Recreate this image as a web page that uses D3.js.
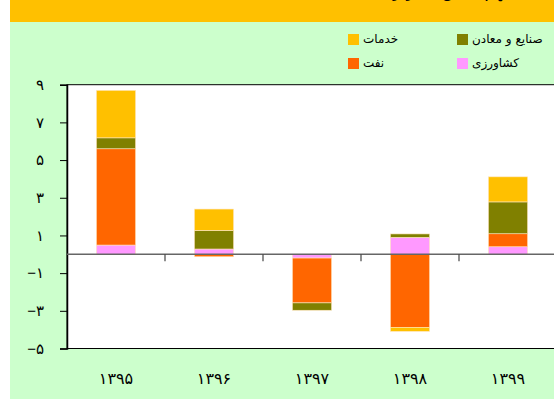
<!DOCTYPE html>
<html>
<head>
<meta charset="utf-8">
<script src="https://cdn.jsdelivr.net/npm/d3@7"></script>
<style>
body { margin: 0; background: #fff; }
svg { display: block; font-family: "DejaVu Sans", sans-serif; }
</style>
</head>
<body>
<svg id="chart"></svg>
<script>
// data
var years = ["۱۳۹۵", "۱۳۹۶", "۱۳۹۷", "۱۳۹۸", "۱۳۹۹"]
var keshavarzi = [0.49, 0.28, -0.2, 0.9, 0.4]
var naft = [5.11, -0.13, -2.38, -3.88, 0.69]
var sanaye = [0.58, 0.99, -0.39, 0.18, 1.69]
var khadamat = [2.52, 1.13, 0, -0.21, 1.33]
var yTicks = [-5, -3, -1, 1, 3, 5, 7, 9]

var series = [
	{ key: "keshavarzi", name: "کشاورزی", color: "#ff99ff", values: keshavarzi },
	{ key: "naft", name: "نفت", color: "#ff6600", values: naft },
	{ key: "sanaye", name: "صنایع و معادن", color: "#808000", values: sanaye },
	{ key: "khadamat", name: "خدمات", color: "#ffc000", values: khadamat }
]

var width = 554
var height = 401
var svg = d3.select("#chart").attr("width", width).attr("height", height)

// backgrounds
svg.append("rect").attr("x", 10).attr("y", 0).attr("width", width - 10).attr("height", 22).attr("fill", "#ffc000")
svg.append("rect").attr("x", 10).attr("y", 22).attr("width", width - 10).attr("height", 377).attr("fill", "#ccffcc")

// title, only its lower edge shows in the crop
svg.append("text")
	.attr("x", 518).attr("y", -3)
	.attr("text-anchor", "end")
	.attr("font-size", "17px")
	.attr("fill", "#000")
	.text("سهم بخش‌ها در رشد اقتصادی")

var persian = s => s.replace(/\d/g, d => String.fromCharCode(0x06F0 + +d)).replace("-", "−")

var plot = { left: 67, right: 557, top: 84.7, bottom: 348.5 }
var x = d3.scaleBand().domain(years).range([plot.left, plot.right]).paddingInner(0.6).paddingOuter(0.3)
var y = d3.scaleLinear().domain([-5, 9]).range([plot.bottom, plot.top])

svg.append("rect")
	.attr("x", plot.left).attr("y", plot.top)
	.attr("width", plot.right - plot.left).attr("height", plot.bottom - plot.top)
	.attr("fill", "#fff").attr("stroke", "#000").attr("stroke-width", 1)

// stacked bars
var table = years.map((yr, i) => {
	var row = { year: yr }
	series.forEach(s => row[s.key] = s.values[i])
	return row
})
var stack = d3.stack().keys(series.map(s => s.key)).offset(d3.stackOffsetDiverging)
var layers = stack(table)

svg.append("g").selectAll("g").data(layers).enter().append("g")
	.attr("fill", (d, i) => series[i].color)
	.selectAll("rect").data(d => d).enter().append("rect")
		.attr("x", d => x(d.data.year))
		.attr("width", x.bandwidth())
		.attr("y", d => y(Math.max(d[0], d[1])))
		.attr("height", d => Math.abs(y(d[0]) - y(d[1])))
		.attr("stroke", "#ffe6c0")
		.attr("stroke-width", 0.6)

// y axis
var yAxis = svg.append("g")
	.attr("transform", "translate(" + plot.left + ",0)")
	.call(d3.axisLeft(y).tickValues(yTicks).tickSize(7).tickPadding(16).tickFormat(d => persian(String(d))))
yAxis.select(".domain").attr("stroke", "#000").attr("stroke-width", 1.5)
yAxis.selectAll(".tick line").attr("stroke", "#000")
yAxis.selectAll("text").attr("font-size", "15px").attr("fill", "#000").attr("direction", "ltr")

// zero line with category ticks
svg.append("line")
	.attr("x1", plot.left).attr("x2", plot.right)
	.attr("y1", y(0)).attr("y2", y(0))
	.attr("stroke", "#666").attr("stroke-width", 1.5)
svg.append("g").selectAll("line").data(years.slice(1)).enter().append("line")
	.attr("x1", d => x(d) - x.step() * x.paddingInner() / 2)
	.attr("x2", d => x(d) - x.step() * x.paddingInner() / 2)
	.attr("y1", y(0)).attr("y2", y(0) + 7)
	.attr("stroke", "#444").attr("stroke-width", 1.2)

// category labels
svg.append("g").selectAll("text").data(years).enter().append("text")
	.attr("x", d => x(d) + x.bandwidth() / 2)
	.attr("y", 384)
	.attr("text-anchor", "middle")
	.attr("font-size", "16px")
	.text(d => d)

// legend
var legendItems = [
	{ s: series[3], x: 348, y: 34 },
	{ s: series[2], x: 457, y: 34 },
	{ s: series[1], x: 348, y: 58 },
	{ s: series[0], x: 457, y: 58 }
]
var legend = svg.append("g").selectAll("g").data(legendItems).enter().append("g")
	.attr("transform", d => "translate(" + d.x + "," + d.y + ")")
legend.append("rect").attr("width", 11).attr("height", 11).attr("fill", d => d.s.color)
legend.append("text")
	.attr("x", 15).attr("y", 9)
	.attr("font-size", "12px")
	.attr("direction", "ltr")
	.text(d => d.s.name)
</script>
</body>
</html>
